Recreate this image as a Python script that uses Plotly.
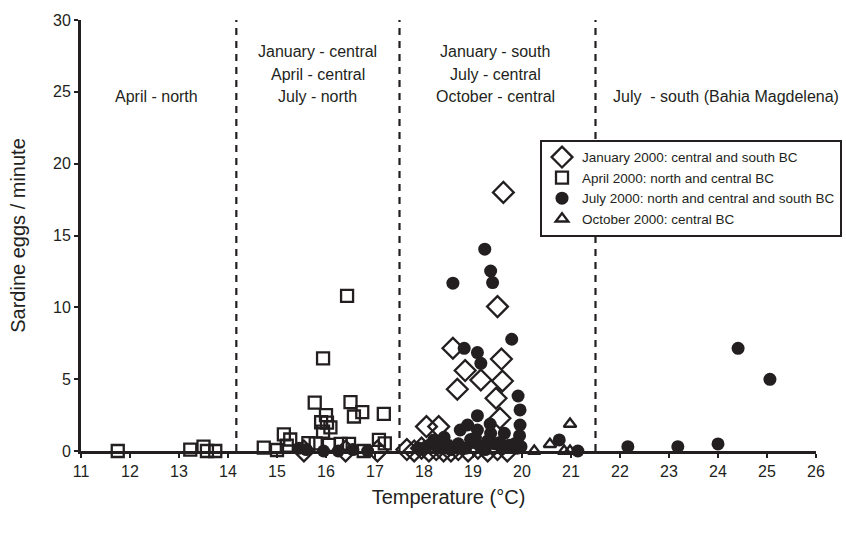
import plotly.graph_objects as go

INK = "#231f20"

# January 2000 cruise: central and south BC
jan_temp = [15.55, 16.4, 17.05,
            17.65, 17.8, 17.95, 18.1, 18.25, 18.4, 18.55, 18.7, 18.9, 19.1, 19.3, 19.5, 19.7,
            18.05, 18.3, 18.68, 18.84, 18.59, 19.16, 19.47, 19.55, 19.6, 19.58, 19.5, 19.62]
jan_eggs = [0.0, 0.0, 0.0,
            0.1, 0.0, 0.2, 0.0, 0.1, 0.0, 0.0, 0.1, 0.0, 0.2, 0.0, 0.1, 0.0,
            1.7, 1.7, 4.3, 5.6, 7.15, 4.94, 3.67, 2.28, 4.87, 6.4, 10.05, 18.0]

# April 2000 cruise: north and central BC
apr_temp = [11.75, 13.23, 13.5, 13.57, 13.74,
            14.73, 15.0, 15.2, 15.14, 15.27, 15.64, 15.79, 16.06, 16.3, 16.47, 16.77, 17.08, 17.2,
            15.94, 16.09, 16.02, 15.9, 16.0, 15.77, 16.5, 16.57, 16.74, 17.18, 15.94, 16.43]
apr_eggs = [0.0, 0.1, 0.3, 0.0, 0.0,
            0.23, 0.07, 0.37, 1.16, 0.8, 0.55, 0.53, 0.42, 0.49, 0.49, 0.0, 0.77, 0.53,
            1.35, 1.65, 1.97, 2.0, 2.5, 3.37, 3.4, 2.4, 2.7, 2.58, 6.45, 10.8]

# July 2000 cruise: north, central and south BC
jul_temp = [15.45, 15.6, 15.95, 16.25, 16.55, 16.85,
            17.9, 18.05, 18.15, 18.3, 18.45, 18.55, 18.7, 18.85, 19.0, 19.15, 19.25, 19.45,
            19.6, 19.75, 19.9, 19.98, 18.2, 18.41, 18.74, 18.89, 19.09, 19.36, 19.64, 19.05,
            19.35, 19.95, 19.96, 19.09, 19.96, 19.92, 19.16, 19.09, 18.82, 19.79, 18.59,
            19.4, 19.36, 19.24, 20.76, 21.14,
            18.35, 18.95, 19.3, 19.55, 19.85,
            22.16, 23.18, 24.0, 24.41, 25.06]
jul_eggs = [0.2, 0.1, 0.0, 0.0, 0.1, 0.0,
            0.2, 0.3, 0.5, 0.2, 0.4, 0.1, 0.5, 0.2, 0.6, 0.3, 0.1, 0.5,
            0.2, 0.4, 0.2, 0.3, 0.77, 0.95, 1.46, 1.81, 1.46, 1.23, 1.23, 0.9,
            1.88, 1.07, 1.81, 2.46, 2.86, 3.83, 6.1, 6.85, 7.15, 7.78, 11.68,
            11.72, 12.53, 14.05, 0.77, 0.0,
            0.6, 0.8, 0.7, 0.6, 0.5,
            0.3, 0.3, 0.49, 7.15, 4.99]

# October 2000 cruise: central BC
oct_temp = [20.25, 20.57, 20.86, 20.98, 20.98]
oct_eggs = [0.0, 0.47, 0.0, 0.0, 1.88]

# Temperature boundaries between regions
boundaries = [14.17, 17.5, 21.5]

# Region labels: centre temperature and text lines (bottom-aligned)
region_x = [12.55, 15.83, 19.45, 24.17]
region_lines = [["April - north"],
                ["January - central", "April - central", "July - north"],
                ["January - south", "July - central", "October - central"],
                ["July  - south (Bahia Magdelena)"]]

x_ticks = list(range(11, 27))
y_ticks = list(range(0, 31, 5))

fig = go.Figure()

fig.add_trace(go.Scatter(
    x=jan_temp, y=jan_eggs, mode="markers", name="January 2000: central and south BC",
    marker=dict(symbol="diamond-open", size=16, color=INK, line=dict(width=2.3, color=INK)),
    cliponaxis=False))
fig.add_trace(go.Scatter(
    x=apr_temp, y=apr_eggs, mode="markers", name="April 2000: north and central BC",
    marker=dict(symbol="square-open", size=12, color=INK, line=dict(width=2.3, color=INK)),
    cliponaxis=False))
fig.add_trace(go.Scatter(
    x=jul_temp, y=jul_eggs, mode="markers", name="July 2000: north and central and south BC",
    marker=dict(symbol="circle", size=13, color=INK, line=dict(width=0)),
    cliponaxis=False))
fig.add_trace(go.Scatter(
    x=oct_temp, y=oct_eggs, mode="markers", name="October 2000: central BC",
    marker=dict(symbol="triangle-up-open", size=11, color=INK, line=dict(width=2.3, color=INK)),
    cliponaxis=False))

for b in boundaries:
    fig.add_shape(type="line", xref="x", yref="y", x0=b, x1=b, y0=0, y1=30,
                  line=dict(color=INK, width=2.2, dash="7px,6px"), layer="below")

line_step = 1.56
bottom_line = 24.68
for cx, lines in zip(region_x, region_lines):
    n = len(lines)
    for i, t in enumerate(lines):
        fig.add_annotation(x=cx, y=bottom_line + (n - 1 - i) * line_step, xref="x", yref="y",
                           text=t, showarrow=False, font=dict(size=16, color=INK))

axis_common = dict(showline=True, linecolor=INK, linewidth=3, ticks="outside",
                   ticklen=4, tickwidth=2, tickcolor=INK, showgrid=False, zeroline=False,
                   tickfont=dict(size=16, color=INK))

fig.update_layout(
    width=846, height=535,
    margin=dict(l=81, r=30, t=20, b=84, autoexpand=False),
    paper_bgcolor="white", plot_bgcolor="white",
    font=dict(family="Liberation Sans, Arial, sans-serif", color=INK),
    xaxis=dict(range=[11, 26], tickvals=x_ticks, title=dict(text="Temperature (°C)",
               font=dict(size=20), standoff=11), **axis_common),
    yaxis=dict(range=[0, 30], tickvals=y_ticks, title=dict(text="Sardine eggs / minute",
               font=dict(size=20), standoff=23), **axis_common),
    legend=dict(x=0.6245, y=0.722, xanchor="left", yanchor="top",
                bordercolor=INK, borderwidth=2, bgcolor="white",
                font=dict(size=13.5, color=INK), itemwidth=30, tracegroupgap=0),
    showlegend=True,
)

fig.write_html("out.html")
